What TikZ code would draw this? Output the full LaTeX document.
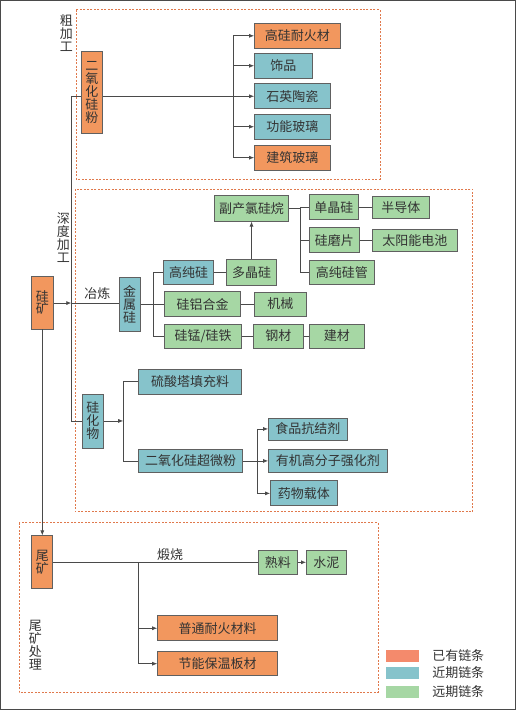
\documentclass[tikz,border=0pt]{standalone}
\usepackage{fontspec}
\setmainfont{Noto Sans CJK SC}
\usetikzlibrary{arrows.meta}
\definecolor{orangeA}{HTML}{F2975E}
\definecolor{orangeLeg}{HTML}{F48A6C}
\definecolor{bleuB}{HTML}{86C3CB}
\definecolor{vertC}{HTML}{A6D7A4}
\definecolor{couleurCadre}{HTML}{E0794C}
\definecolor{trait}{HTML}{4A4A4A}

\begin{document}
\begin{tikzpicture}[x=1pt,y=-1pt,
  font=\fontsize{13}{13}\selectfont,
  >={Latex[length=5pt,width=4pt]},
  every path/.style={draw=trait,line width=0.7pt},
  boite/.style={draw=gray!75!black,line width=0.8pt,anchor=west,inner sep=0pt,minimum height=25pt,text=black!80},
  ora/.style={boite,fill=orangeA},
  ble/.style={boite,fill=bleuB},
  ver/.style={boite,fill=vertC},
  debout/.style={anchor=center,align=center,minimum width=21pt,minimum height=54pt},
  zone/.style={draw=couleurCadre,line width=0.9pt,dash pattern=on 2pt off 1.5pt},
  etiquette/.style={text=black!80,inner sep=0pt,align=center}]
  \useasboundingbox (0,0) rectangle (515,710);

  % Cadres en pointillés
  \draw[zone] (76,9.5) rectangle (380,179);
  \draw[zone] (75,189) rectangle (473,512);
  \draw[zone] (19,523) rectangle (378,693);

  % Titres des étapes
  \node[etiquette] (cujiagong) at (66,33) {粗\\加\\工};
  \node[etiquette] (shendu) at (63,238) {深\\度\\加\\工};
  \node[etiquette] (weichuli) at (35,645) {尾\\矿\\处\\理};

  %粗加工
  \node[ora,debout,minimum height=82pt] (fen) at (91.5,92) {二\\氧\\化\\硅\\粉};
  \node[ora,minimum width=86pt] (gaogui) at (254,35.5) {高硅耐火材};
  \node[ble,minimum width=58pt] (shipin) at (254,65.5) {饰品};
  \node[ble,minimum width=76pt] (shiying) at (254,96) {石英陶瓷};
  \node[ble,minimum width=76pt] (gongneng) at (254,126.5) {功能玻璃};
  \node[ora,minimum width=76pt] (jianzhu) at (254,157.5) {建筑玻璃};
  \coordinate (t1) at (71,96);
  \coordinate (b1) at (233,96);
  \draw (fen.east |- b1) -- (b1);
  \draw (b1 |- gaogui) -- (b1 |- jianzhu);
  \foreach \n in {gaogui,shipin,shiying,gongneng,jianzhu}
    \draw[->] (b1 |- \n) -- (\n);

  % 深度加工 : 金属硅
  \node[ora,debout,minimum width=22pt,minimum height=53pt] (kuang) at (42,302.5) {硅\\矿};
  \node[ble,debout] (jinshu) at (129.5,304) {金\\属\\硅};
  \node[etiquette] (yelian) at (97,294) {冶炼};
  \coordinate (t2) at (71,303);
  \coordinate (t3) at (71,421);
  \draw (fen.west |- t1) -- (t1) -- (t3);
  \draw[->] (kuang.east |- t2) -- (t2);
  \draw (t2) -- (jinshu.west |- t2);

  \node[ble,minimum width=50pt,minimum height=24pt] (gaochun) at (163,272) {高纯硅};
  \node[ver,minimum width=50pt,minimum height=26pt] (duojing) at (226,272) {多晶硅};
  \node[ver,minimum width=74pt,minimum height=26pt] (fuchan) at (214,208) {副产氯硅烷};
  \node[ver,minimum width=49pt] (danjing) at (309,207) {单晶硅};
  \node[ver,minimum width=57pt,minimum height=22pt] (bandaoti) at (372,207) {半导体};
  \node[ver,minimum width=50pt] (momian) at (309,240) {硅磨片};
  \node[ver,minimum width=85pt,minimum height=22pt] (taiyang) at (372,240) {太阳能电池};
  \node[ver,minimum width=65pt,minimum height=24pt] (guiguan) at (309,272) {高纯硅管};
  \node[ver,minimum width=76pt] (guilv) at (164,304) {硅铝合金};
  \node[ver,minimum width=52pt,minimum height=24pt] (jixie) at (254,304) {机械};
  \node[ver,minimum width=77pt,minimum height=24pt] (guimeng) at (164,336) {硅锰/硅铁};
  \node[ver,minimum width=50pt,minimum height=24pt] (gangcai) at (253,336) {钢材};
  \node[ver,minimum width=55pt,minimum height=24pt] (jiancai) at (309,336) {建材};

  \coordinate (b2) at (153,304);
  \draw (jinshu.east |- b2) -- (b2);
  \draw (b2 |- gaochun) -- (b2 |- guimeng);
  \foreach \n in {gaochun,guilv,guimeng}
    \draw (b2 |- \n) -- (\n);
  \draw (gaochun) -- (duojing);
  \draw[->] (duojing) -- (fuchan);
  \coordinate (b3) at (300,208);
  \draw (fuchan) -- (b3);
  \draw (b3 |- danjing) -- (b3 |- guiguan);
  \foreach \n in {danjing,momian,guiguan}
    \draw (b3 |- \n) -- (\n);
  \draw (danjing) -- (bandaoti);
  \draw (momian) -- (taiyang);
  \draw (guilv) -- (jixie);
  \draw (guimeng) -- (gangcai) -- (jiancai);

  % 深度加工 : 硅化物
  \node[ble,debout] (guihua) at (92.5,421) {硅\\化\\物};
  \node[ble,minimum width=103pt] (liusuan) at (138,381.5) {硫酸塔填充料};
  \node[ble,minimum width=104pt,minimum height=23pt] (chaowei) at (138,461) {二氧化硅超微粉};
  \node[ble,minimum width=79pt,minimum height=22pt] (shipinkang) at (268,429) {食品抗结剂};
  \node[ble,minimum width=119pt,minimum height=24pt] (youji) at (268,461) {有机高分子强化剂};
  \node[ble,minimum width=67pt] (yaowu) at (270,493.5) {药物载体};
  \draw (t3) -- (guihua.west |- t3);
  \coordinate (b4) at (123,421);
  \draw[->] (guihua.east |- b4) -- (b4);
  \draw (b4 |- liusuan) -- (b4 |- chaowei);
  \foreach \n in {liusuan,chaowei}
    \draw (b4 |- \n) -- (\n);
  \coordinate (b5) at (257,461);
  \draw (chaowei) -- (b5);
  \draw (b5 |- shipinkang) -- (b5 |- yaowu);
  \foreach \n in {shipinkang,youji,yaowu}
    \draw[->] (b5 |- \n) -- (\n);

  % 尾矿处理
  \node[ora,debout,minimum height=53pt] (weikuang) at (42,562.5) {尾\\矿};
  \node[etiquette] (duanshao) at (170,555) {煅烧};
  \node[ver,minimum width=39pt,minimum height=24pt] (shuliao) at (258,562.5) {熟料};
  \node[ver,minimum width=40pt,minimum height=24pt] (shuini) at (306,562.5) {水泥};
  \node[ora,minimum width=120pt] (putong) at (157,628.5) {普通耐火材料};
  \node[ora,minimum width=120pt,minimum height=24pt] (jieneng) at (157,664) {节能保温板材};
  \draw[->] (kuang) -- (weikuang);
  \draw (weikuang) -- (shuliao);
  \draw[->] (shuliao) -- (shuini);
  \coordinate (b6) at (138,562.5);
  \draw (b6) -- (b6 |- jieneng);
  \foreach \n in {putong,jieneng}
    \draw[->] (b6 |- \n) -- (\n);

  % Légende
  \node[fill=orangeLeg,draw=none,minimum width=33pt,minimum height=12pt,inner sep=0pt] (legA) at (402.5,656) {};
  \node[fill=bleuB,draw=none,minimum width=33pt,minimum height=12pt,inner sep=0pt] (legB) at (402.5,673) {};
  \node[fill=vertC,draw=none,minimum width=33pt,minimum height=12pt,inner sep=0pt] (legC) at (402.5,692) {};
  \node[etiquette,anchor=west] (txtA) at (432,656) {已有链条};
  \node[etiquette,anchor=west] (txtB) at (432,673) {近期链条};
  \node[etiquette,anchor=west] (txtC) at (432,692) {远期链条};
\end{tikzpicture}
\end{document}
